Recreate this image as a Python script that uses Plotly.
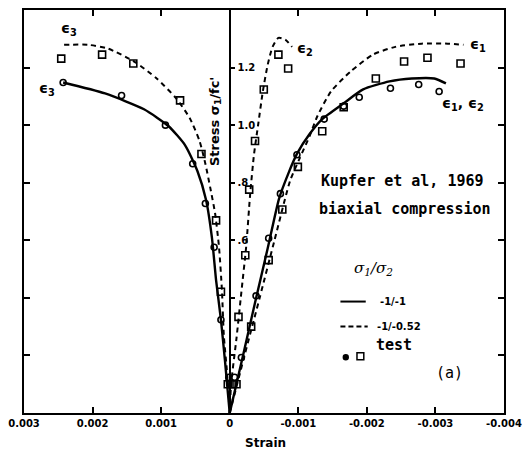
import plotly.graph_objects as go

# ---------------- data (strain, stress ratio) ----------------
# sigma1/sigma2 = -1/-1 : fitted curves (solid)
solid_e3_x = [2.429e-3, 1.818e-3, 1.250e-3, 0.895e-3, 0.650e-3, 0.470e-3, 0.345e-3, 0.260e-3, 0.199e-3, 0.128e-3, 0.071e-3, 0.0]
solid_e3_y = [1.148, 1.110, 1.055, 0.997, 0.930, 0.840, 0.740, 0.610, 0.462, 0.324, 0.186, 0.0]
solid_e1_x = [0.0, -0.185e-3, -0.369e-3, -0.554e-3, -0.720e-3, -0.860e-3, -0.980e-3, -1.165e-3, -1.349e-3, -1.662e-3, -1.946e-3, -2.330e-3, -2.656e-3, -2.983e-3, -3.153e-3]
solid_e1_y = [0.0, 0.190, 0.383, 0.572, 0.745, 0.835, 0.900, 0.969, 1.021, 1.076, 1.124, 1.152, 1.162, 1.162, 1.145]

# sigma1/sigma2 = -1/-0.52 : fitted curves (dashed)
dash_e3_x = [2.415e-3, 2.060e-3, 1.776e-3, 1.392e-3, 1.065e-3, 0.781e-3, 0.582e-3, 0.440e-3, 0.355e-3, 0.284e-3, 0.213e-3, 0.156e-3, 0.114e-3, 0.085e-3, 0.043e-3, 0.0]
dash_e3_y = [1.279, 1.279, 1.266, 1.221, 1.162, 1.093, 1.024, 0.945, 0.866, 0.783, 0.693, 0.576, 0.428, 0.266, 0.152, 0.0]
dash_e2_x = [0.0, -0.020e-3, -0.099e-3, -0.170e-3, -0.241e-3, -0.298e-3, -0.355e-3, -0.412e-3, -0.483e-3, -0.554e-3, -0.625e-3, -0.710e-3, -0.810e-3, -0.909e-3]
dash_e2_y = [0.0, 0.100, 0.260, 0.420, 0.580, 0.760, 0.900, 0.997, 1.117, 1.210, 1.272, 1.303, 1.297, 1.272]
dash_e1_x = [0.0, -0.213e-3, -0.440e-3, -0.653e-3, -0.881e-3, -1.023e-3, -1.165e-3, -1.278e-3, -1.477e-3, -1.761e-3, -2.088e-3, -2.415e-3, -2.798e-3, -3.182e-3, -3.409e-3]
dash_e1_y = [0.0, 0.197, 0.403, 0.600, 0.807, 0.886, 0.962, 1.031, 1.117, 1.186, 1.245, 1.272, 1.283, 1.283, 1.279]

# test points, -1/-1 (circles)
circ_x = [2.429e-3, 1.577e-3, 0.9375e-3, 0.540e-3, 0.355e-3, 0.227e-3, 0.128e-3, 0.014e-3,
          -0.071e-3, -0.170e-3, -0.384e-3, -0.568e-3, -0.739e-3, -0.980e-3, -1.378e-3, -1.662e-3, -1.889e-3, -2.344e-3, -2.756e-3, -3.054e-3]
circ_y = [1.148, 1.103, 1.000, 0.866, 0.728, 0.576, 0.324, 0.124,
          0.124, 0.193, 0.407, 0.607, 0.762, 0.897, 1.021, 1.066, 1.097, 1.128, 1.141, 1.117]

# test points, -1/-0.52 (squares)
sq_x = [2.457e-3, 1.861e-3, 1.406e-3, 0.724e-3, 0.412e-3, 0.199e-3, 0.128e-3, 0.028e-3,
        -0.710e-3, -0.852e-3, -0.497e-3, -0.369e-3, -0.284e-3, -0.227e-3, -0.128e-3, -0.028e-3,
        -0.099e-3, -0.313e-3, -0.568e-3, -0.767e-3, -0.994e-3, -1.349e-3, -1.662e-3, -2.131e-3, -2.543e-3, -2.884e-3, -3.366e-3]
sq_y = [1.231, 1.245, 1.214, 1.086, 0.900, 0.669, 0.421, 0.100,
        1.245, 1.197, 1.124, 0.945, 0.776, 0.548, 0.334, 0.100,
        0.100, 0.300, 0.531, 0.707, 0.855, 0.979, 1.062, 1.162, 1.221, 1.234, 1.214]

x_ticks = [0.003, 0.002, 0.001, 0.0, -0.001, -0.002, -0.003, -0.004]
x_ticktext = ["0.003", "0.002", "0.001", "0", "-0.001", "-0.002", "-0.003", "-0.004"]
y_ticks = [0.2, 0.4, 0.6, 0.8, 1.0, 1.2]
y_label_ticks = [0.6, 0.8, 1.0, 1.2]
y_ticktext = [".6", ".8", "1.0", "1.2"]
y_unlabelled_ticks = [0.2, 0.4]

# ---------------- figure ----------------
W, H = 530, 463
ML, MR, MT, MB = 17, 20, 8, 50
PW, PH = W - ML - MR, H - MT - MB

def px(x):
    return (x - ML) / PW

def py(y):
    return (H - MB - y) / PH

fig = go.Figure()
solid = dict(color="black", width=2.4)
dashed = dict(color="black", width=2.0, dash="5px,4px")
for xs, ys, ln in [(solid_e3_x, solid_e3_y, solid), (solid_e1_x, solid_e1_y, solid),
                   (dash_e3_x, dash_e3_y, dashed), (dash_e2_x, dash_e2_y, dashed),
                   (dash_e1_x, dash_e1_y, dashed)]:
    fig.add_trace(go.Scatter(x=xs, y=ys, mode="lines", line=dict(ln, shape="spline", smoothing=0.6),
                             showlegend=False, hoverinfo="skip"))
fig.add_trace(go.Scatter(x=circ_x, y=circ_y, mode="markers", showlegend=False,
                         marker=dict(symbol="circle-open", size=6, color="black", line=dict(width=1.6))))
fig.add_trace(go.Scatter(x=sq_x, y=sq_y, mode="markers", showlegend=False,
                         marker=dict(symbol="square-open", size=7, color="black", line=dict(width=1.6))))
# dummy trace so the frame axis exists
fig.add_trace(go.Scatter(x=[0], y=[0], yaxis="y2", mode="markers", marker=dict(opacity=0),
                         showlegend=False, hoverinfo="skip"))

tickfont = dict(family="DejaVu Sans", size=10, color="black", weight="bold")
fig.update_layout(
    width=W, height=H, margin=dict(l=ML, r=MR, t=MT, b=MB),
    paper_bgcolor="white", plot_bgcolor="white",
    xaxis=dict(range=[0.003, -0.004], showline=True, linecolor="black", linewidth=2,
               mirror="ticks", ticks="inside", ticklen=6, tickwidth=1.5, tickcolor="black",
               tickvals=x_ticks, ticktext=x_ticktext, tickfont=tickfont,
               showgrid=False, zeroline=False),
    yaxis=dict(range=[0, 1.4], anchor="free", position=3 / 7, side="right",
               showline=True, linecolor="black", linewidth=1.5,
               ticks="outside", ticklen=5, tickwidth=1.5, tickcolor="black",
               tickvals=y_label_ticks, ticktext=y_ticktext, tickfont=tickfont,
               minor=dict(tickvals=y_unlabelled_ticks, ticks="outside", ticklen=5, tickwidth=1.5,
                          tickcolor="black", showgrid=False),
               showgrid=False, zeroline=False),
    yaxis2=dict(range=[0, 1.4], overlaying="y", anchor="x", side="left",
                showline=True, linecolor="black", linewidth=2, mirror="ticks",
                ticks="inside", ticklen=6, tickwidth=1.5, tickcolor="black",
                tickvals=y_ticks, showticklabels=False, showgrid=False, zeroline=False),
)

ann = []
mono = dict(family="DejaVu Sans Mono", size=15, color="black", weight="bold")
sans = dict(family="DejaVu Sans", size=13, color="black", weight="bold")
# curve labels (data coordinates)
for txt, x, y in [("ϵ<sub>3</sub>", 2.344e-3, 1.334), ("ϵ<sub>3</sub>", 2.670e-3, 1.124),
                  ("ϵ<sub>2</sub>", -1.094e-3, 1.266), ("ϵ<sub>1</sub>", -3.62e-3, 1.279),
                  ("ϵ<sub>1</sub>, ϵ<sub>2</sub>", -3.409e-3, 1.072)]:
    ann.append(dict(x=x, y=y, xref="x", yref="y", text=txt, showarrow=False,
                    font=dict(family="DejaVu Sans", size=14, color="black", weight="bold")))
ann.append(dict(x=-2.514e-3, y=0.807, xref="x", yref="y", text="Kupfer et al, 1969",
                showarrow=False, font=mono))
ann.append(dict(x=-2.557e-3, y=0.710, xref="x", yref="y", text="biaxial compression",
                showarrow=False, font=mono))
# axis titles
ann.append(dict(x=px(213), y=py(73), xref="paper", yref="paper", text="Stress σ<sub>1</sub>/fc'",
                textangle=-90, showarrow=False, font=sans))
ann.append(dict(x=px(265), y=py(452), xref="paper", yref="paper", text="Strain",
                showarrow=False, font=dict(family="DejaVu Sans", size=12, color="black", weight="bold")))
# legend
ann.append(dict(x=px(398), y=py(279), xref="paper", yref="paper", text="σ<sub>1</sub>/σ<sub>2</sub>",
                showarrow=False, font=dict(family="DejaVu Serif", size=15, color="black", style="italic")))
small = dict(family="DejaVu Sans", size=10, color="black", weight="bold")
ann.append(dict(x=px(381), y=py(301), xref="paper", yref="paper", text="-1/-1", xanchor="left",
                yanchor="middle", showarrow=False, font=small))
ann.append(dict(x=px(377), y=py(326), xref="paper", yref="paper", text="-1/-0.52", xanchor="left",
                yanchor="middle", showarrow=False, font=small))
ann.append(dict(x=px(376), y=py(356), xref="paper", yref="paper", text="test", xanchor="left",
                showarrow=False, font=mono))
ann.append(dict(x=px(470), y=py(384), xref="paper", yref="paper", text="(a)",
                showarrow=False, font=dict(family="DejaVu Sans Mono", size=15, color="black")))
fig.update_layout(annotations=ann)

shapes = [
    dict(type="line", xref="paper", yref="paper", x0=px(342), x1=px(368), y0=py(301), y1=py(301),
         line=dict(color="black", width=2)),
    dict(type="line", xref="paper", yref="paper", x0=px(342), x1=px(370), y0=py(326), y1=py(326),
         line=dict(color="black", width=2, dash="5px,3px")),
    dict(type="circle", xref="paper", yref="paper", x0=px(345), x1=px(350), y0=py(354.5), y1=py(359.5),
         line=dict(color="black", width=1.5), fillcolor="black"),
    dict(type="rect", xref="paper", yref="paper", x0=px(359), x1=px(366), y0=py(352.5), y1=py(359.5),
         line=dict(color="black", width=1.5)),
]
fig.update_layout(shapes=shapes)

fig.write_html("out.html")
